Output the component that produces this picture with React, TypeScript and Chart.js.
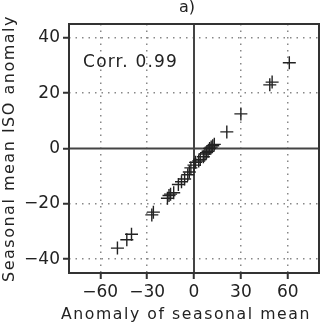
import React, { useEffect, useRef } from "react";
import { Chart, registerables } from "chart.js";

Chart.register(...registerables);

const xValues = [-49, -43, -40, -27, -26, -17, -16, -15, -13, -10, -8, -6, -4, -3, -2, 0, 1, 3, 4, 6, 7, 8, 9, 10, 11, 12, 13, 21, 30, 48.5, 50, 61];
const yValues = [-36, -33, -31, -24, -23, -18, -17, -16.5, -16, -13, -12, -11, -9.5, -8.5, -7, -6, -5, -4.5, -4, -3, -2, -1.5, -1, 0, 0.5, 1, 1.5, 6, 12.5, 23, 24, 31];
const xTicks = [-60, -30, 0, 30, 60];
const yTicks = [-40, -20, 0, 20, 40];
const xRange = [-80, 80];
const yRange = [-45, 45];
const titleText = "a)";
const xTitle = "Anomaly of seasonal mean";
const yTitle = "Seasonal mean ISO anomaly";
const corrText = "Corr. 0.99";
const corrAt = { x: -71, y: 31 };

const FONT = "'DejaVu Sans', sans-serif";
const INK = "#222";

const fmt = (v: number) => String(v).replace("-", "\u2212");

const wrapDraw = (obj: any, key: string, spacing: string, dx: number) => {
  if (!obj || obj["__w_" + key]) return;
  const orig = obj[key].bind(obj);
  obj[key] = (...args: any[]) => {
    const ctx = obj.ctx;
    ctx.save();
    ctx.letterSpacing = spacing;
    ctx.translate(dx, 0);
    orig(...args);
    ctx.restore();
  };
  obj["__w_" + key] = true;
};

const framePlugin = {
  id: "frame",
  beforeDraw(chart: any) {
    wrapDraw(chart.titleBlock, "draw", "0px", -7);
  },
  beforeDatasetsDraw(chart: any) {
    const { ctx, chartArea: a, scales } = chart;
    const x0 = scales.x.getPixelForValue(0);
    const y0 = scales.y.getPixelForValue(0);
    ctx.save();
    ctx.strokeStyle = "#444";
    ctx.lineWidth = 2;
    ctx.beginPath();
    ctx.moveTo(x0, a.top);
    ctx.lineTo(x0, a.bottom);
    ctx.moveTo(a.left, y0);
    ctx.lineTo(a.right, y0);
    ctx.stroke();
    ctx.strokeStyle = "#333";
    ctx.strokeRect(a.left, a.top, a.right - a.left, a.bottom - a.top);
    ctx.fillStyle = INK;
    ctx.font = `17px ${FONT}`;
    ctx.letterSpacing = "1.2px";
    ctx.textAlign = "left";
    ctx.textBaseline = "middle";
    ctx.fillText(corrText, scales.x.getPixelForValue(corrAt.x), scales.y.getPixelForValue(corrAt.y));
    ctx.restore();
  },
};

export default function App() {
  const ref = useRef<HTMLCanvasElement>(null);
  useEffect(() => {
    if (!ref.current) return;
    const data = xValues.map((x, i) => ({ x, y: yValues[i] }));
    const chart = new Chart(ref.current, {
      type: "scatter",
      data: {
        datasets: [
          {
            data,
            pointStyle: "cross",
            pointRadius: 6.5,
            pointBorderWidth: 1.4,
            borderColor: INK,
            backgroundColor: INK,
          },
        ],
      },
      options: {
        responsive: false,
        animation: false,
        layout: { autoPadding: false, padding: { left: 0, right: 1, top: 0, bottom: 0 } },
        plugins: {
          legend: { display: false },
          tooltip: { enabled: false },
          title: {
            display: true,
            fullSize: false,
            text: titleText,
            color: INK,
            font: { family: FONT, size: 16, weight: "normal", lineHeight: 1 },
            padding: { top: 0, bottom: 8 },
          },
        },
        scales: {
          x: {
            type: "linear",
            min: xRange[0],
            max: xRange[1],
            afterBuildTicks: (s: any) => {
              s.ticks = xTicks.map((v) => ({ value: v }));
            },
            afterFit: (s: any) => {
              s.height = 50;
              s.paddingLeft = 0;
              s.paddingRight = 0;
              wrapDraw(s, "drawTitle", "1.6px", -8);
            },
            border: { display: false, dash: [1.5, 5] },
            grid: {
              color: (c: any) => (c.tick && c.tick.value === 0 ? "rgba(0,0,0,0)" : "#888"),
              lineWidth: 1.5,
              tickColor: "#333",
              tickLength: 6,
              tickWidth: 2,
            },
            ticks: {
              color: INK,
              padding: 3,
              maxRotation: 0,
              font: { family: FONT, size: 17 },
              callback: (v: any) => fmt(v),
            },
            title: {
              display: true,
              text: xTitle,
              color: INK,
              font: { family: FONT, size: 16, lineHeight: 1 },
              padding: { top: 0, bottom: 0 },
            },
          },
          y: {
            type: "linear",
            min: yRange[0],
            max: yRange[1],
            afterBuildTicks: (s: any) => {
              s.ticks = yTicks.map((v) => ({ value: v }));
            },
            afterFit: (s: any) => {
              s.width = 69;
              wrapDraw(s, "drawTitle", "1.5px", 0);
            },
            border: { display: false, dash: [1.5, 5] },
            grid: {
              color: (c: any) => (c.tick && c.tick.value === 0 ? "rgba(0,0,0,0)" : "#888"),
              lineWidth: 1.5,
              tickColor: "#333",
              tickLength: 6,
              tickWidth: 2,
            },
            ticks: {
              color: INK,
              padding: 3,
              font: { family: FONT, size: 17 },
              callback: (v: any) => fmt(v),
            },
            title: {
              display: true,
              text: yTitle,
              color: INK,
              font: { family: FONT, size: 16 },
              padding: { top: 0, bottom: 0 },
            },
          },
        },
      },
      plugins: [framePlugin],
    });
    return () => chart.destroy();
  }, []);
  return (
    <div style={{ position: "absolute", left: 0, top: 0, width: 320, height: 323 }}>
      <canvas ref={ref} width={320} height={323} style={{ display: "block" }} />
    </div>
  );
}
